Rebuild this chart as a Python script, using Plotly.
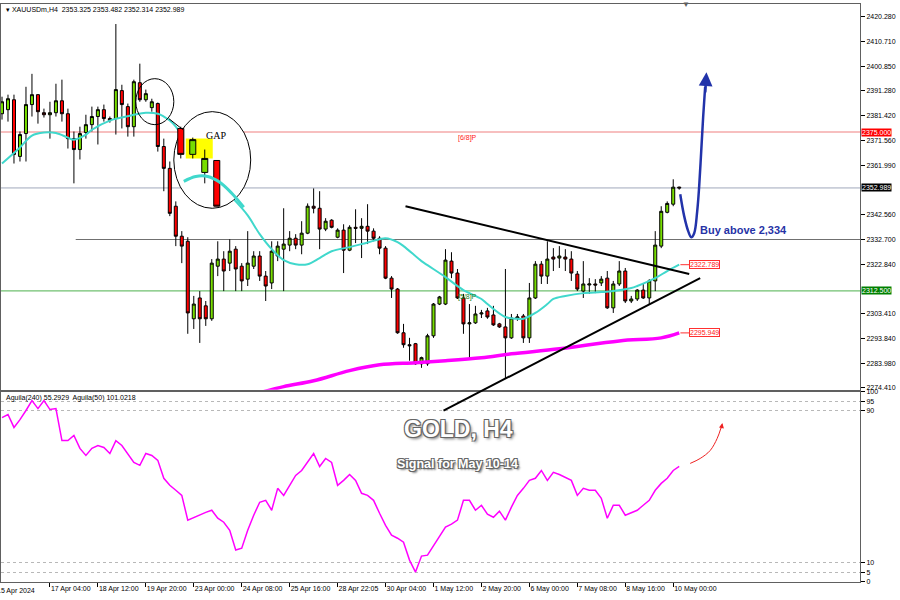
import plotly.graph_objects as go

# ---------------- data ----------------
bar_index = list(range(114))
bar_open = [2382.2, 2383.8, 2387.7, 2365.4, 2374.4, 2385.8, 2389.7, 2382.6, 2381.8, 2382.6,
            2387.3, 2382.2, 2372.4, 2368.1, 2374.8, 2377.9, 2381.1, 2383.8, 2380.3, 2380.3,
            2391.3, 2385.0, 2377.1, 2394.4, 2387.7, 2384.6, 2386.2, 2369.3, 2360.7, 2345.8,
            2334.0, 2332.0, 2301.5, 2309.7, 2306.6, 2301.5, 2322.2, 2325.0, 2323.4, 2328.9,
            2322.2, 2317.1, 2322.2, 2326.2, 2318.3, 2315.6, 2326.2, 2328.9, 2330.5, 2333.2,
            2330.5, 2335.2, 2345.8, 2345.0, 2336.8, 2340.3, 2333.6, 2336.4, 2328.5, 2337.5,
            2337.1, 2337.9, 2336.0, 2333.2, 2329.3, 2317.5, 2313.2, 2296.0, 2291.3, 2291.7,
            2283.8, 2283.8, 2294.8, 2307.3, 2307.3, 2324.2, 2319.5, 2309.7, 2299.5, 2299.9,
            2303.4, 2304.6, 2303.0, 2299.5, 2298.3, 2294.0, 2301.8, 2302.6, 2294.0, 2309.7,
            2323.0, 2318.3, 2325.8, 2325.4, 2325.8, 2325.0, 2319.1, 2312.4, 2314.8, 2315.2,
            2315.6, 2317.5, 2305.8, 2315.2, 2320.3, 2308.5, 2309.3, 2312.8, 2309.7, 2316.4,
            2330.1, 2343.4, 2346.6, 2353.325]
bar_high = [2388.9, 2389.7, 2389.7, 2375.2, 2392.8, 2397.9, 2389.9, 2384.2, 2386.9, 2394.0,
            2395.6, 2384.2, 2375.2, 2377.1, 2381.8, 2385.0, 2385.0, 2385.8, 2381.1, 2417.5,
            2393.6, 2386.2, 2395.6, 2401.9, 2391.7, 2388.1, 2386.6, 2372.4, 2363.4, 2347.7,
            2336.0, 2333.6, 2310.5, 2312.4, 2308.5, 2325.0, 2332.0, 2328.1, 2332.8, 2330.1,
            2323.4, 2336.0, 2328.1, 2328.1, 2320.3, 2332.0, 2332.0, 2345.0, 2336.0, 2334.8,
            2339.9, 2346.9, 2352.8, 2351.7, 2341.1, 2340.7, 2337.1, 2338.7, 2338.3, 2344.6,
            2341.1, 2346.6, 2337.1, 2334.0, 2330.1, 2318.3, 2313.6, 2299.5, 2294.0, 2292.0,
            2286.6, 2295.6, 2307.7, 2310.5, 2328.9, 2327.7, 2321.1, 2311.3, 2307.3, 2306.6,
            2305.0, 2305.8, 2306.6, 2299.9, 2321.1, 2303.4, 2303.4, 2303.4, 2315.6, 2324.2,
            2324.2, 2332.0, 2329.3, 2330.1, 2328.9, 2328.1, 2320.3, 2324.2, 2317.5, 2317.1,
            2318.3, 2320.3, 2316.4, 2324.2, 2321.5, 2310.5, 2313.2, 2315.2, 2317.1, 2336.0,
            2345.8, 2347.7, 2356.4, 2353.482]
bar_low = [2379.9, 2379.1, 2362.6, 2363.4, 2363.4, 2381.1, 2378.3, 2380.7, 2372.4, 2381.1,
           2379.1, 2368.5, 2354.8, 2364.2, 2372.4, 2375.2, 2370.1, 2379.1, 2378.7, 2374.0,
           2376.4, 2373.2, 2373.2, 2386.9, 2386.9, 2383.0, 2367.3, 2351.7, 2341.9, 2330.1,
           2323.4, 2295.6, 2297.5, 2292.0, 2298.7, 2300.7, 2318.3, 2312.4, 2320.3, 2312.4,
           2312.4, 2314.4, 2321.1, 2316.4, 2308.5, 2313.2, 2324.2, 2312.4, 2328.1, 2328.9,
           2326.9, 2334.8, 2343.0, 2328.9, 2336.0, 2337.1, 2333.2, 2319.5, 2328.1, 2331.3,
           2325.4, 2330.9, 2332.0, 2326.9, 2317.1, 2309.7, 2295.6, 2290.1, 2285.0, 2283.4,
           2282.2, 2283.0, 2294.0, 2306.9, 2306.9, 2317.5, 2309.3, 2295.6, 2285.8, 2299.5,
           2301.8, 2301.5, 2298.7, 2297.9, 2277.9, 2293.6, 2300.7, 2292.0, 2292.0, 2309.3,
           2315.2, 2315.2, 2320.3, 2321.5, 2320.3, 2316.4, 2312.4, 2309.7, 2311.3, 2311.6,
           2314.4, 2305.4, 2303.8, 2314.4, 2307.7, 2307.7, 2308.5, 2309.3, 2307.3, 2312.4,
           2329.3, 2343.0, 2345.8, 2352.314]
bar_close = [2386.9, 2388.1, 2366.2, 2374.0, 2385.8, 2389.7, 2383.0, 2381.8, 2382.6, 2387.3,
             2382.2, 2372.4, 2368.1, 2374.4, 2377.9, 2381.1, 2383.8, 2380.3, 2379.5, 2391.7,
             2385.8, 2377.1, 2394.8, 2387.7, 2390.1, 2386.9, 2369.3, 2360.7, 2343.0, 2334.0,
             2330.1, 2303.8, 2307.3, 2301.5, 2301.5, 2323.4, 2325.0, 2320.3, 2328.1, 2321.1,
             2316.4, 2323.4, 2326.2, 2318.3, 2314.4, 2328.1, 2330.1, 2330.9, 2333.2, 2330.5,
             2335.2, 2345.8, 2345.0, 2336.8, 2339.9, 2337.5, 2336.4, 2328.5, 2337.5, 2337.1,
             2337.9, 2336.0, 2333.2, 2329.3, 2317.5, 2313.2, 2296.0, 2291.3, 2290.9, 2283.8,
             2286.2, 2294.8, 2307.3, 2310.1, 2324.6, 2319.5, 2309.7, 2299.5, 2299.9, 2303.4,
             2303.8, 2302.2, 2299.1, 2298.3, 2294.0, 2301.8, 2302.2, 2294.0, 2309.7, 2323.0,
             2318.3, 2325.0, 2325.0, 2326.2, 2325.0, 2319.5, 2313.2, 2315.2, 2315.2, 2314.8,
             2317.1, 2305.8, 2315.2, 2320.3, 2308.5, 2309.3, 2312.8, 2309.7, 2316.4, 2330.5,
             2343.8, 2346.9, 2353.3, 2352.989]

# cyan moving average (read at selected bars)
ma_fast_index = [0, 3, 5, 7, 9, 11, 12, 14, 15, 18, 20, 22, 24, 26, 27, 28, 29, 31, 33, 35,
                 37, 39, 41, 43, 45, 47, 49, 51, 53, 55, 58, 60, 63, 64, 66, 67, 70, 71, 74,
                 77, 80, 81, 84, 86, 87, 89, 91, 92, 94, 97, 100, 102, 105, 106, 109, 111, 113]
ma_fast_value = [2362.6, 2368.9, 2373.6, 2374.8, 2374.6, 2372.8, 2372.0, 2374.0, 2375.9, 2379.5,
                 2380.7, 2381.8, 2382.6, 2382.2, 2381.1, 2379.5, 2377.1, 2370.1, 2363.4, 2357.9,
                 2352.4, 2347.7, 2342.2, 2334.8, 2328.9, 2324.6, 2323.0, 2323.0, 2325.4, 2328.1,
                 2329.7, 2330.9, 2332.8, 2333.2, 2331.7, 2330.1, 2324.2, 2322.6, 2317.9, 2312.8,
                 2309.3, 2307.3, 2302.2, 2301.5, 2301.5, 2303.8, 2307.3, 2309.3, 2310.5, 2311.6,
                 2312.0, 2312.4, 2313.6, 2314.4, 2317.5, 2320.3, 2322.789]
# magenta slow moving average
ma_slow_index = [43, 47, 52, 58, 63, 69, 74, 80, 85, 93, 103, 110, 113]
ma_slow_value = [2272.4, 2274.8, 2277.1, 2281.1, 2283.4, 2284.2, 2285.0, 2286.2, 2287.7, 2289.7,
                 2292.8, 2294.0, 2295.949]

# oscillator panel (Aguila)
osc_value = [86.4, 88.0, 81.2, 85.3, 90.1, 95.3, 91.1, 95.3, 90.6, 91.1,
             74.3, 74.3, 77.0, 70.2, 66.5, 70.2, 71.7, 70.7, 67.5, 74.3,
             71.7, 67.5, 62.8, 61.3, 67.5, 66.5, 63.9, 54.5, 50.8, 48.2,
             45.5, 32.5, 34.0, 35.1, 36.6, 37.7, 33.5, 31.4, 27.2, 16.8,
             17.8, 27.2, 35.1, 41.9, 42.9, 37.7, 49.2, 45.5, 50.8, 56.0,
             58.6, 62.8, 67.5, 60.7, 64.9, 62.8, 50.8, 53.4, 56.5, 53.4,
             46.6, 45.5, 42.9, 36.1, 29.8, 24.6, 23.0, 20.9, 11.5, 5.2,
             13.6, 14.1, 18.8, 23.6, 28.8, 30.4, 32.5, 42.9, 42.9, 37.7,
             40.3, 35.6, 34.0, 37.2, 32.5, 39.3, 45.5, 49.2, 53.4, 54.5,
             58.6, 53.4, 57.6, 56.5, 55.0, 53.4, 45.5, 49.2, 48.2, 48.2,
             44.0, 33.5, 40.3, 40.3, 35.1, 36.6, 37.7, 40.3, 42.9, 48.2,
             51.8, 54.5, 58.6, 60.7]

# magnified "GAP" inset (own axes)
inset_index = [0, 1, 2, 3]
inset_open = [2376.4, 2366.2, 2359.1, 2363.8]
inset_high = [2377.1, 2372.8, 2368.1, 2363.8]
inset_low = [2364.6, 2364.6, 2354.8, 2345.8]
inset_close = [2366.2, 2372.0, 2364.6, 2345.8]
inset_ma_index = [0.25, 1.25, 2.25, 3.25, 4.25, 5.25]
inset_ma_value = [2355.6, 2357.5, 2357.5, 2355.2, 2350.9, 2345.4]

# drawn projection (blue) and oscillator arrow (red)
proj_index = [113.17, 113.83, 114.5, 115.0, 115.5, 116.0, 116.33, 116.67, 117.0, 117.33]
proj_price = [2350.5, 2341.9, 2336.0, 2333.6, 2335.2, 2343.8, 2353.6, 2367.3, 2381.1, 2392.8]
osc_arrow_index = [114.83, 116.5, 118.17, 119.33, 120.0]
osc_arrow_value = [62.3, 64.9, 69.1, 75.4, 81.2]

# trend lines (bar index, price)
upper_trend = [(67.33, 2345.8), (114.67, 2319.1)]
lower_trend = [(73.67, 2265.4), (116.5, 2317.5)]

level_red = 2375.0
level_bid = 2352.989
level_buy = 2332.7
level_green = 2312.5

x_tick_index = [8, 16, 24, 32, 40, 48, 56, 64, 72, 80, 88, 96, 104, 112]
x_tick_text = ["17 Apr 04:00", "18 Apr 12:00", "19 Apr 20:00", "23 Apr 00:00", "24 Apr 08:00",
               "25 Apr 16:00", "28 Apr 22:05", "30 Apr 04:00", "1 May 12:00", "2 May 20:00",
               "6 May 00:00", "7 May 08:00", "8 May 16:00", "10 May 00:00"]
price_tick_values = [2420.28, 2410.71, 2400.85, 2391.28, 2381.42, 2371.56, 2361.99, 2342.56,
                     2332.70, 2322.84, 2303.41, 2293.84, 2283.98, 2274.41]
price_tick_text = ["%.3f" % v for v in price_tick_values]
osc_ticks = [0, 5, 10, 90, 95, 100]

# ---------------- geometry ----------------
W, H = 900, 600
PLOT_W = 860
TOP, BOTTOM = 2, 582
main_dom = [(BOTTOM - 389) / (BOTTOM - TOP), 1.0]
osc_dom = [0.0, (BOTTOM - 391) / (BOTTOM - TOP)]
y_range = [2273.61, 2425.38]
x_range = [-1 / 6, (PLOT_W - 1) / 6]


def px_x(px):
    return px / PLOT_W


def px_y(py):
    return (BOTTOM - py) / (BOTTOM - TOP)


def price_paper(p):
    return main_dom[0] + (p - y_range[0]) / (y_range[1] - y_range[0]) * (main_dom[1] - main_dom[0])


FONT = "Liberation Sans"
CYAN = "#40d8cc"
MAGENTA = "#ff00ff"
BULL = "#77dd00"
BEAR = "#ff0000"

fig = go.Figure()

fig.add_trace(go.Scatter(x=ma_fast_index, y=ma_fast_value, mode="lines",
                         line=dict(color=CYAN, width=2, shape="spline"),
                         xaxis="x", yaxis="y", hoverinfo="skip", showlegend=False))
fig.add_trace(go.Scatter(x=ma_slow_index, y=ma_slow_value, mode="lines",
                         line=dict(color=MAGENTA, width=3.5, shape="spline"),
                         xaxis="x", yaxis="y", hoverinfo="skip", showlegend=False))
fig.add_trace(go.Candlestick(x=bar_index, open=bar_open, high=bar_high, low=bar_low, close=bar_close,
                             increasing=dict(line=dict(color="black", width=1), fillcolor=BULL),
                             decreasing=dict(line=dict(color="black", width=1), fillcolor=BEAR),
                             whiskerwidth=0, xaxis="x", yaxis="y", showlegend=False))
fig.add_trace(go.Scatter(x=proj_index, y=proj_price, mode="lines",
                         line=dict(color="#2233aa", width=2.5, shape="spline"),
                         xaxis="x", yaxis="y", hoverinfo="skip", showlegend=False))

# oscillator
fig.add_trace(go.Scatter(x=bar_index, y=osc_value, mode="lines",
                         line=dict(color=MAGENTA, width=1.5),
                         xaxis="x2", yaxis="y2", hoverinfo="skip", showlegend=False))
fig.add_trace(go.Scatter(x=osc_arrow_index, y=osc_arrow_value, mode="lines",
                         line=dict(color="#ee2222", width=1, shape="spline"),
                         xaxis="x2", yaxis="y2", hoverinfo="skip", showlegend=False))

# inset
fig.add_trace(go.Scatter(x=inset_ma_index, y=inset_ma_value, mode="lines",
                         line=dict(color=CYAN, width=3, shape="spline"),
                         xaxis="x3", yaxis="y3", hoverinfo="skip", showlegend=False))
fig.add_trace(go.Candlestick(x=inset_index, open=inset_open, high=inset_high, low=inset_low,
                             close=inset_close,
                             increasing=dict(line=dict(color="black", width=1), fillcolor=BULL),
                             decreasing=dict(line=dict(color="black", width=1), fillcolor=BEAR),
                             whiskerwidth=0, xaxis="x3", yaxis="y3", showlegend=False))

shapes = [
    dict(type="line", xref="paper", yref="y", x0=0, x1=1, y0=level_red, y1=level_red,
         line=dict(color="#f08080", width=1.2), layer="below"),
    dict(type="line", xref="paper", yref="y", x0=0, x1=1, y0=level_bid, y1=level_bid,
         line=dict(color="#a0a8bc", width=1), layer="below"),
    dict(type="line", xref="x", yref="y", x0=12.3, x1=x_range[1], y0=level_buy, y1=level_buy,
         line=dict(color="#707070", width=1.2), layer="below"),
    dict(type="line", xref="paper", yref="y", x0=0, x1=1, y0=level_green, y1=level_green,
         line=dict(color="#70c070", width=1.2), layer="below"),
    dict(type="line", xref="x", yref="y", x0=upper_trend[0][0], y0=upper_trend[0][1],
         x1=upper_trend[1][0], y1=upper_trend[1][1], line=dict(color="black", width=2)),
    dict(type="line", xref="x", yref="paper", x0=lower_trend[0][0], y0=price_paper(lower_trend[0][1]),
         x1=lower_trend[1][0], y1=price_paper(lower_trend[1][1]), line=dict(color="black", width=2)),
    # small circle and connector
    dict(type="circle", xref="x", yref="y", x0=22.33, x1=28.67, y0=2377.9, y1=2396.0,
         line=dict(color="black", width=1)),
    dict(type="line", xref="x", yref="y", x0=27.83, y0=2380.3, x1=30.17, y1=2375.96,
         line=dict(color="black", width=1)),
    # inset background circle + yellow gap box
    dict(type="circle", xref="x3", yref="y3", x0=-0.583, x1=5.833, y0=2344.98, y1=2383.02,
         fillcolor="white", line=dict(color="black", width=1), layer="below"),
    dict(type="rect", xref="x3", yref="y3", x0=0.417, x1=2.667, y0=2364.6, y1=2372.4,
         fillcolor="#ffff00", line=dict(width=0), layer="below"),
]

small = dict(family=FONT, size=7, color="black")
annotations = [
    dict(xref="paper", yref="paper", x=px_x(3), y=px_y(8), xanchor="left", yanchor="middle",
         text="▾ XAUUSDm,H4  2353.325 2353.482 2352.314 2352.989", showarrow=False, font=small),
    dict(xref="paper", yref="paper", x=px_x(3), y=px_y(397), xanchor="left", yanchor="middle",
         text="Aguila(240) 55.2929  Aguila(50) 101.0218", showarrow=False, font=small),
    dict(xref="paper", yref="paper", x=px_x(-6), y=0, xanchor="left", yanchor="top", yshift=-3,
         text="15 Apr 2024", showarrow=False, font=small),
    dict(xref="paper", yref="paper", x=px_x(686), y=1, xanchor="center", yanchor="middle",
         text="▼", showarrow=False, font=dict(family=FONT, size=8, color="#606060")),
    # right-axis price boxes
    dict(xref="paper", yref="y", x=1, y=level_red, xanchor="left", yanchor="middle", xshift=1,
         text="2375.000", showarrow=False, bgcolor="#ff0000", borderpad=0,
         font=dict(family=FONT, size=7, color="white")),
    dict(xref="paper", yref="y", x=1, y=level_bid, xanchor="left", yanchor="middle", xshift=1,
         text="2352.989", showarrow=False, bgcolor="#000000", borderpad=0,
         font=dict(family=FONT, size=7, color="white")),
    dict(xref="paper", yref="y", x=1, y=level_green, xanchor="left", yanchor="middle", xshift=1,
         text="2312.500", showarrow=False, bgcolor="#008000", borderpad=0,
         font=dict(family=FONT, size=7, color="white")),
    # level tags
    dict(xref="x", yref="y", x=77.7, y=level_red, yshift=-6, text="[6/8]P", showarrow=False,
         font=dict(family=FONT, size=7, color="#ff2020")),
    dict(xref="x", yref="y", x=77.7, y=level_green, yshift=-6, text="[5/8]P", showarrow=False,
         font=dict(family=FONT, size=7, color="#208020")),
    # MA end labels
    dict(xref="x", yref="y", x=ma_fast_index[-1] + 0.2, y=ma_fast_value[-1], ax=24, ay=0,
         text="2322.789", showarrow=True, arrowhead=0, arrowcolor="#ff3030", arrowwidth=1,
         bordercolor="#ff3030", borderwidth=1, borderpad=0, bgcolor="white",
         font=dict(family=FONT, size=7, color="#ff2020")),
    dict(xref="x", yref="y", x=ma_slow_index[-1] + 0.2, y=ma_slow_value[-1], ax=24, ay=0,
         text="2295.949", showarrow=True, arrowhead=0, arrowcolor="#ff3030", arrowwidth=1,
         bordercolor="#ff3030", borderwidth=1, borderpad=0, bgcolor="white",
         font=dict(family=FONT, size=7, color="#ff2020")),
    # buy note
    dict(xref="x", yref="y", x=123.75, y=2336.4, text="<b>Buy above 2,334</b>", showarrow=False,
         font=dict(family=FONT, size=11, color="#2633a6")),
    # projection arrowhead
    dict(xref="x", yref="y", x=117.55, y=2398.5, axref="x", ayref="y", ax=117.33, ay=2390.0,
         text="", showarrow=True, arrowhead=2, arrowsize=1.1, arrowwidth=2.5, arrowcolor="#2233aa"),
    # oscillator arrowhead
    dict(xref="x2", yref="y2", x=120.2, y=83.5, axref="x2", ayref="y2", ax=120.0, ay=80.0,
         text="", showarrow=True, arrowhead=2, arrowsize=1, arrowwidth=1, arrowcolor="#ee2222"),
    # GAP label
    dict(xref="x3", yref="y3", x=2.92, y=2373.5, text="GAP", showarrow=False,
         font=dict(family="Liberation Serif", size=10, color="black")),
    # watermark text
    dict(xref="paper", yref="paper", x=px_x(458), y=px_y(428), xanchor="center", yanchor="middle",
         text="<b>GOLD, H4</b>", showarrow=False,
         font=dict(family=FONT, size=23, color="white",
                   shadow="1px 1px 0 #666, -1px -1px 0 #666, 1px -1px 0 #666, -1px 1px 0 #666, 2px 2px 3px #777")),
    dict(xref="paper", yref="paper", x=px_x(457), y=px_y(464), xanchor="center", yanchor="middle",
         text="<b>Signal for May 10-14</b>", showarrow=False,
         font=dict(family=FONT, size=12.5, color="white",
                   shadow="1px 1px 0 #666, -1px -1px 0 #666, 1px -1px 0 #666, -1px 1px 0 #666, 2px 2px 2px #777")),
]

axis_common = dict(showgrid=False, zeroline=False, linecolor="#606060", linewidth=1, mirror=True,
                   showline=True, tickfont=small, ticks="outside", ticklen=4, tickcolor="black")

fig.update_layout(
    width=W, height=H, autosize=False,
    margin=dict(l=0, r=W - PLOT_W, t=TOP, b=H - BOTTOM),
    paper_bgcolor="white", plot_bgcolor="rgba(0,0,0,0)",
    showlegend=False, hovermode=False, boxgap=0.28,
    xaxis=dict(domain=[0, 1], anchor="y", range=x_range, showticklabels=False, ticks="",
               rangeslider=dict(visible=False), **{k: v for k, v in axis_common.items() if k not in ("ticks",)}),
    yaxis=dict(domain=main_dom, anchor="x", side="right", range=y_range,
               tickvals=price_tick_values, ticktext=price_tick_text, **axis_common),
    xaxis2=dict(domain=[0, 1], anchor="y2", range=x_range, matches="x", tickangle=0,
                tickvals=x_tick_index, ticktext=x_tick_text, ticklabelposition="outside right",
                rangeslider=dict(visible=False), **axis_common),
    yaxis2=dict(domain=osc_dom, anchor="x2", side="right", range=[0, 100], tickvals=osc_ticks,
                **{**axis_common, "showgrid": True, "gridcolor": "#b8b8b8", "griddash": "dot"}),
    xaxis3=dict(domain=[px_x(168), px_x(256)], anchor="y3", range=[-1.0, 6.333], visible=False,
                rangeslider=dict(visible=False), fixedrange=True),
    yaxis3=dict(domain=[px_y(211), px_y(106)], anchor="x3", range=[2343.41, 2384.59], visible=False,
                fixedrange=True),
    shapes=shapes,
    annotations=annotations,
)

fig.write_html("out.html", config={"displayModeBar": False},
               post_script="document.body.style.margin='0';document.body.style.overflow='hidden';")
